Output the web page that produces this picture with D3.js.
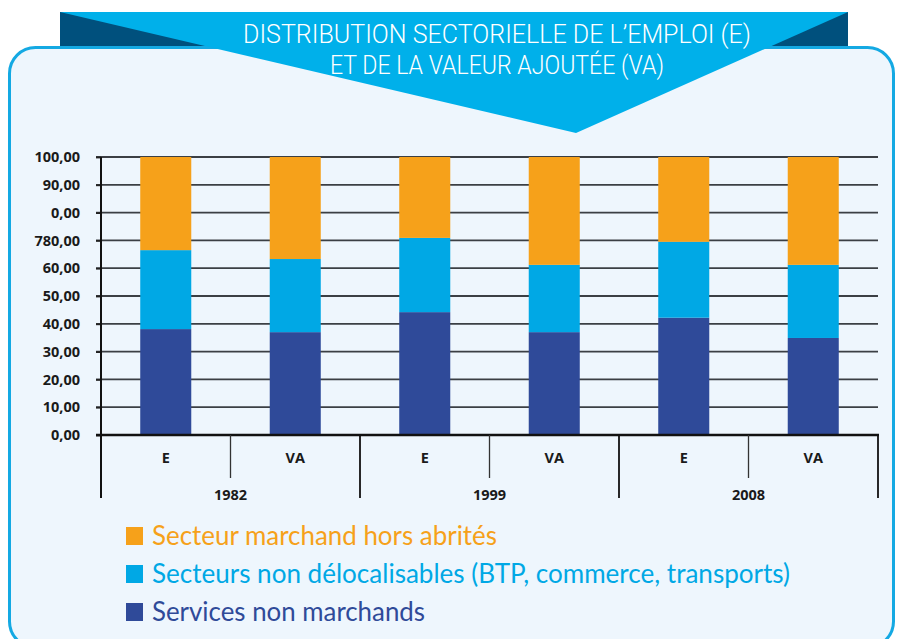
<!DOCTYPE html>
<html>
<head>
<meta charset="utf-8">
<script src="https://cdn.jsdelivr.net/npm/d3@7"></script>
<style>
  body { margin: 0; background: #ffffff; }
  svg { display: block; }
</style>
</head>
<body>
<div id="chart"></div>
<script>
// data
var years = ["1982", "1999", "2008"];
var measures = ["E", "VA"];
var seriesNames = ["Services non marchands", "Secteurs non délocalisables (BTP, commerce, transports)", "Secteur marchand hors abrités"];
var servicesNonMarchands = [38.1, 37.0, 44.2, 37.0, 42.2, 34.9];
var secteursNonDeloc = [28.4, 26.3, 26.7, 24.2, 27.3, 26.3];
var secteurMarchand = [33.5, 36.7, 29.1, 38.8, 30.5, 38.8];
var tickValues = [0, 10, 20, 30, 40, 50, 60, 70, 80, 90, 100];
// labels as printed in the source (typos kept)
var tickLabels = ["0,00", "10,00", "20,00", "30,00", "40,00", "50,00", "60,00", "780,00", "0,00", "90,00", "100,00"];
var titleLines = ["DISTRIBUTION SECTORIELLE DE L\u2019EMPLOI (E)", "ET DE LA VALEUR AJOUTÉE (VA)"];

var colors = ["#2f4a99", "#00a8e5", "#f6a11a"];
var W = 898, H = 639;

var svg = d3.select("#chart").append("svg")
  .attr("width", W)
  .attr("height", H);

// --- banner + panel ---
svg.append("rect")
  .attr("x", 60).attr("y", 12)
  .attr("width", 788).attr("height", 40)
  .attr("fill", "#00507d");

svg.append("rect")
  .attr("x", 9.5).attr("y", 47.5)
  .attr("width", 884).attr("height", 600)
  .attr("rx", 26).attr("ry", 26)
  .attr("fill", "#eef6fd")
  .attr("stroke", "#14a9e3")
  .attr("stroke-width", 3);

svg.append("path")
  .attr("d", "M60,12 L848,12 L576,133 Z")
  .attr("fill", "#00b0ea");

svg.selectAll(".title")
  .data(titleLines)
  .join("text")
  .attr("class", "title")
  .attr("x", 497)
  .attr("y", (d, i) => 42.5 + i * 31.5)
  .attr("text-anchor", "middle")
  .attr("textLength", (d, i) => i == 0 ? 508 : 334)
  .attr("lengthAdjust", "spacingAndGlyphs")
  .style("font-family", "Roboto, 'Open Sans', sans-serif")
  .style("font-weight", 300)
  .style("font-size", "25.5px")
  .style("fill", "#ffffff")
  .text(d => d);

// --- scales ---
var keys = [];
years.forEach(y => measures.forEach(m => keys.push(y + "-" + m)));

var rows = keys.map((k, i) => ({
  key: k,
  s0: servicesNonMarchands[i],
  s1: secteursNonDeloc[i],
  s2: secteurMarchand[i]
}));

var x = d3.scaleBand().domain(keys).range([101, 878]).padding(0);
var xYear = d3.scaleBand().domain(years).range([101, 878]).padding(0);
var y = d3.scaleLinear().domain([0, 100]).range([435, 157]);

var barW = x.bandwidth() * 0.394;

// gridlines
var g = svg.append("g");
g.selectAll(".grid")
  .data(tickValues.slice(1))
  .join("line")
  .attr("class", "grid")
  .attr("x1", 96).attr("x2", 878)
  .attr("y1", d => y(d)).attr("y2", d => y(d))
  .attr("stroke", "#3b3f44")
  .attr("stroke-width", 1.8);

// stacked bars
var stack = d3.stack().keys(["s0", "s1", "s2"]);
var layers = stack(rows);

g.selectAll(".layer")
  .data(layers)
  .join("g")
  .attr("class", "layer")
  .attr("fill", (d, i) => colors[i])
  .selectAll("rect")
  .data(d => d)
  .join("rect")
  .attr("x", d => x(d.data.key) + (x.bandwidth() - barW) / 2)
  .attr("width", barW)
  .attr("y", d => y(d[1]))
  .attr("height", d => y(d[0]) - y(d[1]));

// y axis
var yAxis = d3.axisLeft(y)
  .tickValues(tickValues)
  .tickSize(5)
  .tickFormat((d, i) => tickLabels[i]);

var ya = svg.append("g")
  .attr("transform", "translate(101,0)")
  .call(yAxis);
ya.select(".domain").remove();
ya.selectAll(".tick line").attr("stroke", "#222").attr("stroke-width", 1.8);
ya.selectAll(".tick text")
  .attr("x", -21)
  .attr("dy", "0.32em")
  .style("font-family", "'Open Sans', sans-serif")
  .style("font-weight", 700)
  .style("font-size", "14.5px")
  .style("fill", "#1a1a1a");

// axis lines
svg.append("line")
  .attr("x1", 101).attr("x2", 101)
  .attr("y1", 157).attr("y2", 498)
  .attr("stroke", "#111").attr("stroke-width", 2);
svg.append("line")
  .attr("x1", 96).attr("x2", 879)
  .attr("y1", y(0)).attr("y2", y(0))
  .attr("stroke", "#111").attr("stroke-width", 2.5);

// category separators
svg.selectAll(".sep-short")
  .data(years)
  .join("line")
  .attr("class", "sep-short")
  .attr("x1", d => xYear(d) + xYear.bandwidth() / 2)
  .attr("x2", d => xYear(d) + xYear.bandwidth() / 2)
  .attr("y1", 435).attr("y2", 478)
  .attr("stroke", "#333").attr("stroke-width", 1.3);

svg.selectAll(".sep-long")
  .data(years.slice(1).concat(["end"]))
  .join("line")
  .attr("class", "sep-long")
  .attr("x1", d => d == "end" ? 878 : xYear(d))
  .attr("x2", d => d == "end" ? 878 : xYear(d))
  .attr("y1", 435).attr("y2", 498)
  .attr("stroke", "#111").attr("stroke-width", 1.8);

// E / VA labels
svg.selectAll(".cat")
  .data(keys)
  .join("text")
  .attr("class", "cat")
  .attr("x", d => x(d) + x.bandwidth() / 2)
  .attr("y", 463)
  .attr("text-anchor", "middle")
  .style("font-family", "'Open Sans', sans-serif")
  .style("font-weight", 700)
  .style("font-size", "14.5px")
  .style("fill", "#1a1a1a")
  .text(d => d.split("-")[1]);

svg.selectAll(".year")
  .data(years)
  .join("text")
  .attr("class", "year")
  .attr("x", d => xYear(d) + xYear.bandwidth() / 2)
  .attr("y", 500)
  .attr("text-anchor", "middle")
  .style("font-family", "'Open Sans', sans-serif")
  .style("font-weight", 700)
  .style("font-size", "14.5px")
  .style("fill", "#1a1a1a")
  .text(d => d);

// legend (top to bottom: orange, cyan, navy)
var legendOrder = [2, 1, 0];
var legendWidths = [345, 638, 273];
var leg = svg.selectAll(".leg")
  .data(legendOrder)
  .join("g")
  .attr("class", "leg")
  .attr("transform", (d, i) => "translate(126," + (536 + i * 38) + ")");

leg.append("rect")
  .attr("x", 0).attr("y", -9)
  .attr("width", 17).attr("height", 18)
  .attr("fill", d => colors[d]);

leg.append("text")
  .attr("x", 26)
  .attr("y", 9)
  .attr("textLength", (d, i) => legendWidths[i])
  .attr("lengthAdjust", "spacingAndGlyphs")
  .style("font-family", "Lato, 'Open Sans', sans-serif")
  .style("font-size", "26px")
  .style("fill", d => colors[d])
  .text(d => seriesNames[d]);
</script>
</body>
</html>
